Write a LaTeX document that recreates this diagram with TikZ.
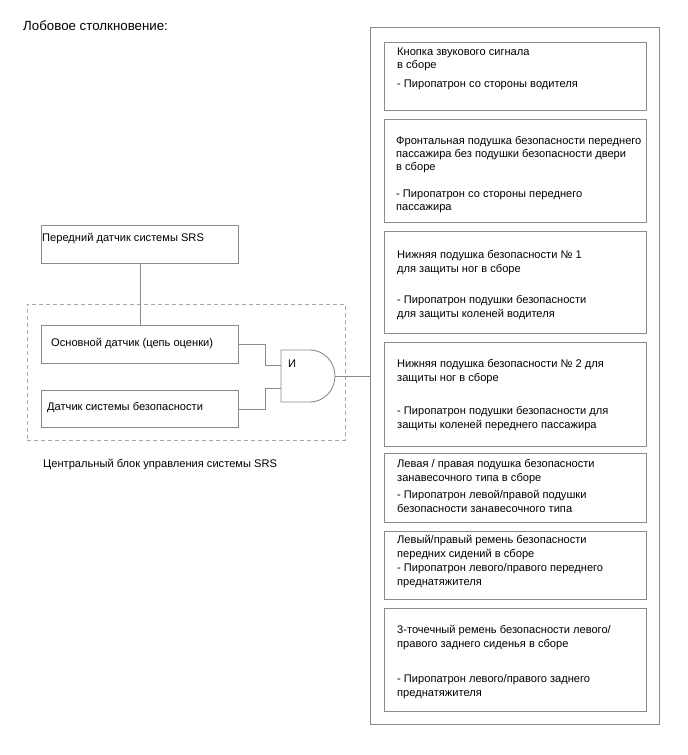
\documentclass[tikz,border=0pt]{standalone}
\usepackage{fontspec}
\setmainfont{Liberation Sans}
\usepackage{xcolor}
\definecolor{frame1}{HTML}{8A8A8A}
\definecolor{frame2}{HTML}{A8A8A8}
\usepackage{tikz}
\usetikzlibrary{positioning}

\begin{document}
\begin{tikzpicture}[x=1pt, y=-1pt,
    box/.style={draw=frame1, line width=0.9pt, anchor=north west, inner sep=0pt},
    txt/.style={anchor=west, inner sep=0pt, yshift=-2pt, align=left, font=\fontsize{11.1}{13.3}\selectfont},
    wire/.style={draw=frame1, line width=0.9pt},
    ecubox/.style={draw=frame2, line width=0.9pt, dash pattern=on 4pt off 3pt, anchor=north west, inner sep=0pt}]
  \useasboundingbox (0,0) rectangle (688,755);
  \node[txt, font=\fontsize{13.3}{16}\selectfont] (title) at (23,24) {Лобовое столкновение:};
  % Left: sensors and the AND gate
  \node[ecubox, minimum width=318pt, minimum height=136pt] (ecu) at (27,304) {};
  \node[box, minimum width=197pt, minimum height=38pt] (front) at (41,225) {};
  \node[box, minimum width=197pt, minimum height=38pt] (main) at (41,325) {};
  \node[box, minimum width=197pt, minimum height=37pt] (safety) at (41,390) {};
  \node[txt] (fronttxt) at (42,237) {Передний датчик системы SRS};
  \node[txt] (maintxt) at (51,342) {Основной датчик (цепь оценки)};
  \node[txt] (safetytxt) at (47,406) {Датчик системы безопасности};
  \node[txt] (ecutxt) at (43,463) {Центральный блок управления системы SRS};
  \draw[wire] (281,350) -- (310,350) arc[start angle=-90, end angle=90, x radius=25, y radius=26]
    -- (281,402) -- cycle;
  \coordinate (in1) at (281,365);
  \coordinate (in2) at (281,388);
  \coordinate (out) at (335,376);
  \node[txt] (andtxt) at (288,362) {И};
  \draw[wire] (front.south) -- (main.north);
  \draw[wire] (main.east) -- ++(27,0) |- (in1);
  \draw[wire] (safety.east) -- ++(27,0) |- (in2);
  % Right: deployed devices
  \node[box, minimum width=289pt, minimum height=697pt] (deploy) at (370,27) {};
  \draw[wire] (out) -- (deploy.west |- out);
  \node[box, minimum width=262pt, minimum height=68pt] (horn) at (384,42) {};
  \node[box, minimum width=262pt, minimum height=103pt] (passbag) at (384,119) {};
  \node[box, minimum width=262pt, minimum height=102pt] (knee1) at (384,231) {};
  \node[box, minimum width=262pt, minimum height=104pt] (knee2) at (384,342) {};
  \node[box, minimum width=262pt, minimum height=69pt] (curtain) at (384,453) {};
  \node[box, minimum width=262pt, minimum height=68pt] (frontbelt) at (384,531) {};
  \node[box, minimum width=262pt, minimum height=103pt] (rearbelt) at (384,608) {};
  \node[txt] (horn1) at (397,57.5) {Кнопка звукового сигнала\\в сборе};
  \node[txt] (horn2) at (397,83) {- Пиропатрон со стороны водителя};
  \node[txt] (passbag1) at (396,152.5) {Фронтальная подушка безопасности переднего\\пассажира без подушки безопасности двери\\в сборе};
  \node[txt] (passbag2) at (396,199.5) {- Пиропатрон со стороны переднего\\пассажира};
  \node[txt] (knee11) at (397,260.5) {Нижняя подушка безопасности № 1\\для защиты ног в сборе};
  \node[txt] (knee12) at (397,305.5) {- Пиропатрон подушки безопасности\\для защиты коленей водителя};
  \node[txt] (knee21) at (397,369.5) {Нижняя подушка безопасности № 2 для\\защиты ног в сборе};
  \node[txt] (knee22) at (397,416.5) {- Пиропатрон подушки безопасности для\\защиты коленей переднего пассажира};
  \node[txt] (curtain1) at (397,469.5) {Левая / правая подушка безопасности\\занавесочного типа в сборе};
  \node[txt] (curtain2) at (397,499.5) {- Пиропатрон левой/правой подушки\\безопасности занавесочного типа};
  \node[txt] (frontbelt1) at (397,545.5) {Левый/правый ремень безопасности\\передних сидений в сборе};
  \node[txt] (frontbelt2) at (397,573.5) {- Пиропатрон левого/правого переднего\\преднатяжителя};
  \node[txt] (rearbelt1) at (397,635.5) {3-точечный ремень безопасности левого/\\правого заднего сиденья в сборе};
  \node[txt] (rearbelt2) at (397,684.5) {- Пиропатрон левого/правого заднего\\преднатяжителя};
\end{tikzpicture}
\end{document}
